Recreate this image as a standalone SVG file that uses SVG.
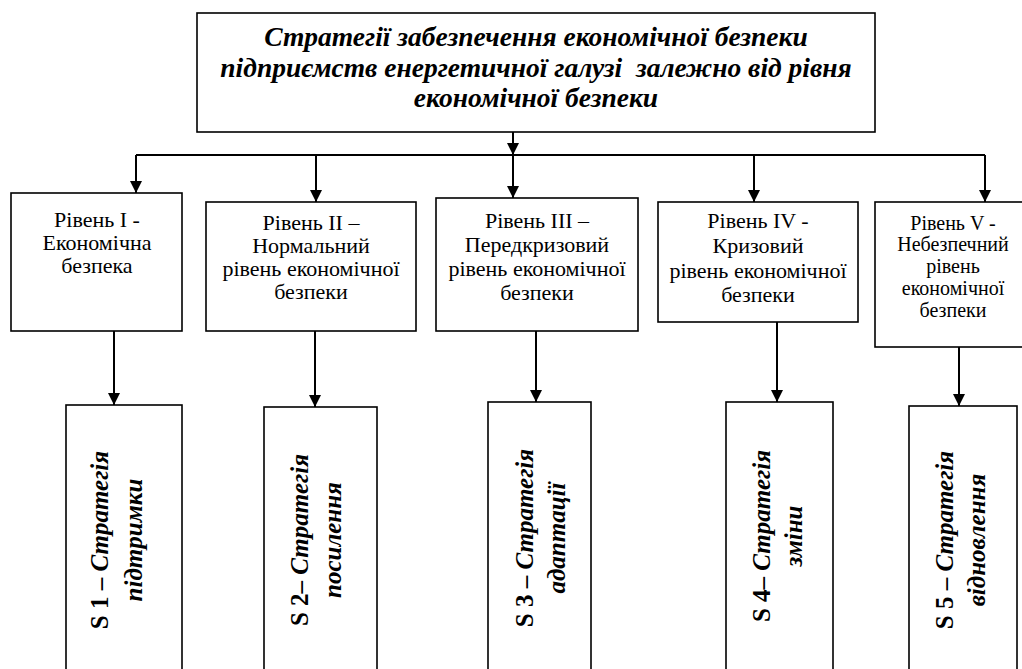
<svg xmlns="http://www.w3.org/2000/svg" width="1022" height="669" viewBox="0 0 1022 669">
<defs>
<style>
.box{fill:#fff;stroke:#000;stroke-width:1.6}
.ln{fill:none;stroke:#000;stroke-width:2}
.arr{marker-end:url(#ah)}
.t{font-family:"Liberation Serif","DejaVu Serif Condensed","DejaVu Serif",serif;fill:#000}
.title{font-size:27.5px;font-weight:bold;font-style:italic;text-anchor:middle}
.lvl{font-size:22px;text-anchor:middle}
.lvl5{font-size:20px;text-anchor:middle}
.st{font-size:25px;font-weight:bold;text-anchor:middle}
.it{font-style:italic}
</style>
<marker id="ah" markerUnits="userSpaceOnUse" markerWidth="12" markerHeight="12" refX="12" refY="6" orient="auto">
<path d="M0,0 L12,6 L0,12 z" fill="#000"/>
</marker>
</defs>
<rect width="1022" height="669" fill="#fff"/>

<g id="connectors">
<path class="ln arr" d="M513,132 V155"/>
<path class="ln" d="M136,155 H985"/>
<path class="ln arr" d="M136,155 V193"/>
<path class="ln arr" d="M316,155 V202"/>
<path class="ln arr" d="M513,155 V198"/>
<path class="ln arr" d="M754,155 V202"/>
<path class="ln arr" d="M985,155 V202"/>
<path class="ln arr" d="M114,331 V405"/>
<path class="ln arr" d="M315,331 V407"/>
<path class="ln arr" d="M536,331 V402"/>
<path class="ln arr" d="M777,322 V402"/>
<path class="ln arr" d="M959,347 V406"/>
</g>

<g id="root">
<rect class="box" x="197" y="13" width="678" height="119"/>
<text class="t title" xml:space="preserve"><tspan x="536" y="46">Стратегії забезпечення економічної безпеки</tspan><tspan x="536" y="77">підприємств енергетичної галузі  залежно від рівня</tspan><tspan x="536" y="107">економічної безпеки</tspan></text>
</g>

<g id="level1">
<rect class="box" x="11" y="193" width="171" height="138"/>
<text class="t lvl"><tspan x="97" y="227">Рівень I -</tspan><tspan x="97" y="250">Економічна</tspan><tspan x="97" y="273">безпека</tspan></text>
</g>
<g id="level2">
<rect class="box" x="206" y="202" width="210" height="129"/>
<text class="t lvl"><tspan x="311" y="230">Рівень II –</tspan><tspan x="311" y="253">Нормальний</tspan><tspan x="311" y="276">рівень економічної</tspan><tspan x="311" y="299">безпеки</tspan></text>
</g>
<g id="level3">
<rect class="box" x="436" y="198" width="202" height="133"/>
<text class="t lvl"><tspan x="537" y="228">Рівень III –</tspan><tspan x="537" y="252">Передкризовий</tspan><tspan x="537" y="276">рівень економічної</tspan><tspan x="537" y="300">безпеки</tspan></text>
</g>
<g id="level4">
<rect class="box" x="658" y="202" width="200" height="120"/>
<text class="t lvl"><tspan x="758" y="228">Рівень IV -</tspan><tspan x="758" y="253">Кризовий</tspan><tspan x="758" y="278">рівень економічної</tspan><tspan x="758" y="302">безпеки</tspan></text>
</g>
<g id="level5">
<rect class="box" x="875" y="202" width="160" height="145"/>
<text class="t lvl5"><tspan x="953" y="230">Рівень V -</tspan><tspan x="953" y="251">Небезпечний</tspan><tspan x="953" y="273">рівень</tspan><tspan x="953" y="295">економічної</tspan><tspan x="953" y="317">безпеки</tspan></text>
</g>

<g id="s1">
<rect class="box" x="66" y="405" width="116" height="280"/>
<text class="t st" transform="translate(108,540) rotate(-90)"><tspan x="0" y="0">S 1 – <tspan class="it">Стратегія</tspan></tspan><tspan class="it" x="0" y="34">підтримки</tspan></text>
</g>
<g id="s2">
<rect class="box" x="264" y="407" width="113" height="280"/>
<text class="t st" transform="translate(308,540) rotate(-90)"><tspan x="0" y="0">S 2– <tspan class="it">Стратегія</tspan></tspan><tspan class="it" x="0" y="33">посилення</tspan></text>
</g>
<g id="s3">
<rect class="box" x="488" y="402" width="103" height="280"/>
<text class="t st" transform="translate(533,538) rotate(-90)"><tspan x="0" y="0">S 3 – <tspan class="it">Стратегія</tspan></tspan><tspan class="it" x="0" y="32">адаптації</tspan></text>
</g>
<g id="s4">
<rect class="box" x="726" y="402" width="107" height="280"/>
<text class="t st" transform="translate(770,536) rotate(-90)"><tspan x="0" y="0">S 4– <tspan class="it">Стратегія</tspan></tspan><tspan class="it" x="0" y="32">зміни</tspan></text>
</g>
<g id="s5">
<rect class="box" x="909" y="406" width="108" height="280"/>
<text class="t st" transform="translate(953,540) rotate(-90)"><tspan x="0" y="0">S 5 – <tspan class="it">Стратегія</tspan></tspan><tspan class="it" x="0" y="32">відновлення</tspan></text>
</g>
</svg>
